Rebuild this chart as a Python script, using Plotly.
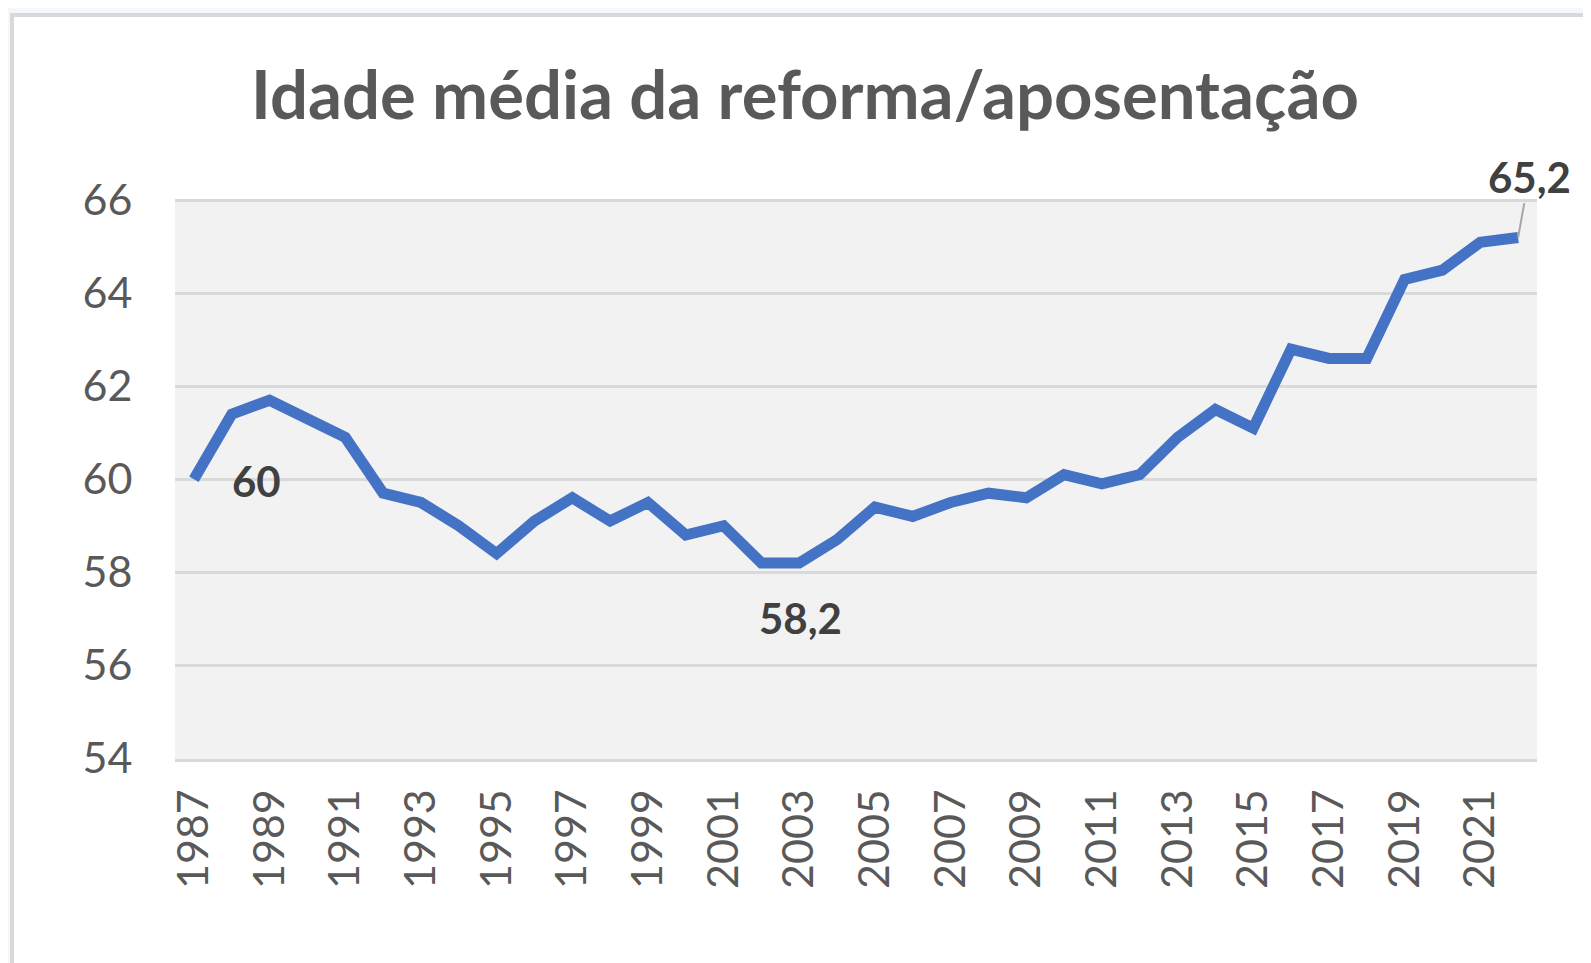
import plotly.graph_objects as go

years = [str(y) for y in range(1987, 2023)]
ages = [60.0, 61.4, 61.7, 61.3, 60.9, 59.7, 59.5, 59.0, 58.4, 59.1,
        59.6, 59.1, 59.5, 58.8, 59.0, 58.2, 58.2, 58.7, 59.4, 59.2,
        59.5, 59.7, 59.6, 60.1, 59.9, 60.1, 60.9, 61.5, 61.1, 62.8,
        62.6, 62.6, 64.3, 64.5, 65.1, 65.2]
title_text = "Idade média da reforma/aposentação"
x_tick_labels = years[::2]
y_tick_values = [54, 56, 58, 60, 62, 64, 66]

# indices of labelled points (category index on the x axis)
lab_first = 0
lab_min = 16
lab_last = len(years) - 1

def fmt(v):
    s = f"{v:.1f}".replace(".", ",")
    return s[:-2] if s.endswith(",0") else s

# page body has an 8px margin, so the figure is laid out 8px up/left
W, H = 1583, 955
L, R, T, B = 167, 54, 191, 204
pw, ph = W - L - R, H - T - B

FONT = "Lato, Carlito, sans-serif"

fig = go.Figure()
fig.add_trace(go.Scatter(
    x=years, y=ages, mode="lines",
    line=dict(color="#4472c4", width=11),
    hoverinfo="x+y", showlegend=False,
))

lab_font = dict(family=FONT, size=42, color="#404040")
fig.add_annotation(x=lab_first, y=ages[lab_first], xref="x", yref="y",
                   text="<b>" + fmt(ages[lab_first]) + "</b>",
                   showarrow=False, xshift=63, yshift=-2, font=lab_font)
fig.add_annotation(x=lab_min, y=ages[lab_min], xref="x", yref="y",
                   text="<b>" + fmt(ages[lab_min]) + "</b>",
                   showarrow=False, xshift=1, yshift=-55, font=lab_font)
fig.add_annotation(x=lab_last, y=ages[lab_last], xref="x", yref="y",
                   text="<b>" + fmt(ages[lab_last]) + "</b>",
                   showarrow=True, arrowhead=0, arrowwidth=2, arrowcolor="#a6a6a6",
                   ax=11, ay=-61, standoff=0, font=lab_font)

OUT = "#f4f8fd"
# outer page strips (top / left)
fig.add_shape(type="rect", xref="paper", yref="paper",
              x0=-1, x1=2, y0=(ph + T - 5) / ph, y1=(ph + T + 20) / ph,
              fillcolor=OUT, line=dict(width=0), layer="below")
fig.add_shape(type="rect", xref="paper", yref="paper",
              x0=(-L - 20) / pw, x1=(2 - L) / pw, y0=-1, y1=2,
              fillcolor=OUT, line=dict(width=0), layer="below")
# card border
fig.add_shape(type="rect", xref="paper", yref="paper",
              x0=(4 - L) / pw, x1=(W + 40 - L) / pw,
              y0=-(B + 40) / ph, y1=(ph + T - 7) / ph,
              fillcolor="rgba(0,0,0,0)", line=dict(color="#d9d9d9", width=4), layer="below")

fig.update_layout(
    width=W, height=H,
    margin=dict(l=L, r=R, t=T, b=B, autoexpand=False),
    paper_bgcolor="white",
    plot_bgcolor="#f2f2f2",
    title=dict(text="<b>" + title_text + "</b>", xref="container", yref="container",
               x=797 / W, y=1 - 88 / H, xanchor="center", yanchor="middle",
               font=dict(family=FONT, size=67, color="#595959")),
    font=dict(family=FONT, size=43, color="#595959"),
    xaxis=dict(type="category", range=[-0.5, len(years) - 0.5],
               tickmode="array", tickvals=x_tick_labels, ticktext=x_tick_labels,
               tickangle=-90, showgrid=False, zeroline=False,
               ticks="outside", ticklen=10, tickcolor="rgba(0,0,0,0)",
               showline=True, linecolor="#d9d9d9", linewidth=3),
    yaxis=dict(range=[53.98, 66.03], tickmode="array", tickvals=y_tick_values,
               showgrid=True, gridcolor="#d9d9d9", gridwidth=2.5, zeroline=False,
               ticks="outside", ticklen=33, tickcolor="rgba(0,0,0,0)"),
)

fig.write_html("out.html")
